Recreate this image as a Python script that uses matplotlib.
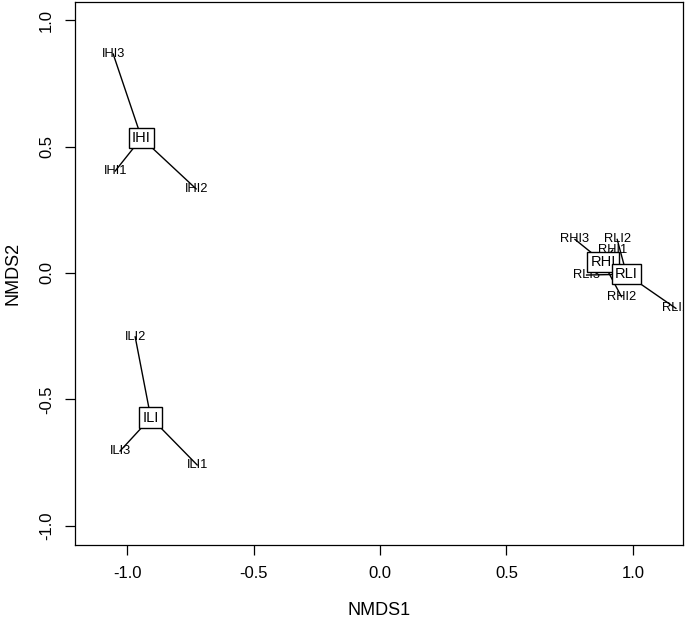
import matplotlib
matplotlib.use("Agg")
import matplotlib.pyplot as plt

plt.rcParams['font.family'] = ['Liberation Sans', 'DejaVu Sans']

sample_names = ["IHI1", "IHI2", "IHI3", "ILI1", "ILI2", "ILI3",
                "RHI1", "RHI2", "RHI3", "RLI1", "RLI2", "RLI3"]
groups = ["IHI", "IHI", "IHI", "ILI", "ILI", "ILI",
          "RHI", "RHI", "RHI", "RLI", "RLI", "RLI"]
nmds1 = [-1.047, -0.727, -1.055, -0.723, -0.968, -1.028,
         0.920, 0.955, 0.771, 1.170, 0.938, 0.817]
nmds2 = [0.404, 0.333, 0.867, -0.760, -0.253, -0.705,
         0.091, -0.094, 0.133, -0.140, 0.133, -0.008]
group_order = ["IHI", "ILI", "RHI", "RLI"]
ticks = [-1.0, -0.5, 0.0, 0.5, 1.0]

fig = plt.figure(figsize=(6.85, 6.19), dpi=100)
ax = fig.add_axes([0.1095, 0.1195, 0.8875, 0.8773])
ax.set_xlim(-1.206, 1.198)
ax.set_ylim(-1.077, 1.073)

# spider lines
for g in group_order:
    idx = [i for i, gg in enumerate(groups) if gg == g]
    cx = sum(nmds1[i] for i in idx) / len(idx)
    cy = sum(nmds2[i] for i in idx) / len(idx)
    for i in idx:
        ax.plot([cx, nmds1[i]], [cy, nmds2[i]], color="black", lw=1.0, zorder=2)

# sample labels (clipped to the plot region, as in the original)
for x, y, s in zip(nmds1, nmds2, sample_names):
    ax.text(x, y, s, ha="center", va="center", fontsize=9.3, zorder=3, clip_on=True)

# centroid labels
for g in group_order:
    idx = [i for i, gg in enumerate(groups) if gg == g]
    cx = sum(nmds1[i] for i in idx) / len(idx)
    cy = sum(nmds2[i] for i in idx) / len(idx)
    ax.text(cx, cy, g, ha="center", va="center", fontsize=10.5, zorder=4,
            bbox=dict(boxstyle="square,pad=0.22", fc="white", ec="black", lw=1.0))

ax.set_xticks(ticks)
ax.set_yticks(ticks)
ax.set_xticklabels([f"{t:.1f}" for t in ticks], fontsize=12)
ax.set_yticklabels([f"{t:.1f}" for t in ticks], fontsize=12, rotation=90, va="center")
ax.tick_params(direction="out", length=7, width=0.9, pad=8)
ax.set_xlabel("NMDS1", fontsize=13, labelpad=15)
ax.set_ylabel("NMDS2", fontsize=13, labelpad=13)
for sp in ax.spines.values():
    sp.set_linewidth(0.9)

fig.savefig("out.png", dpi=100)
